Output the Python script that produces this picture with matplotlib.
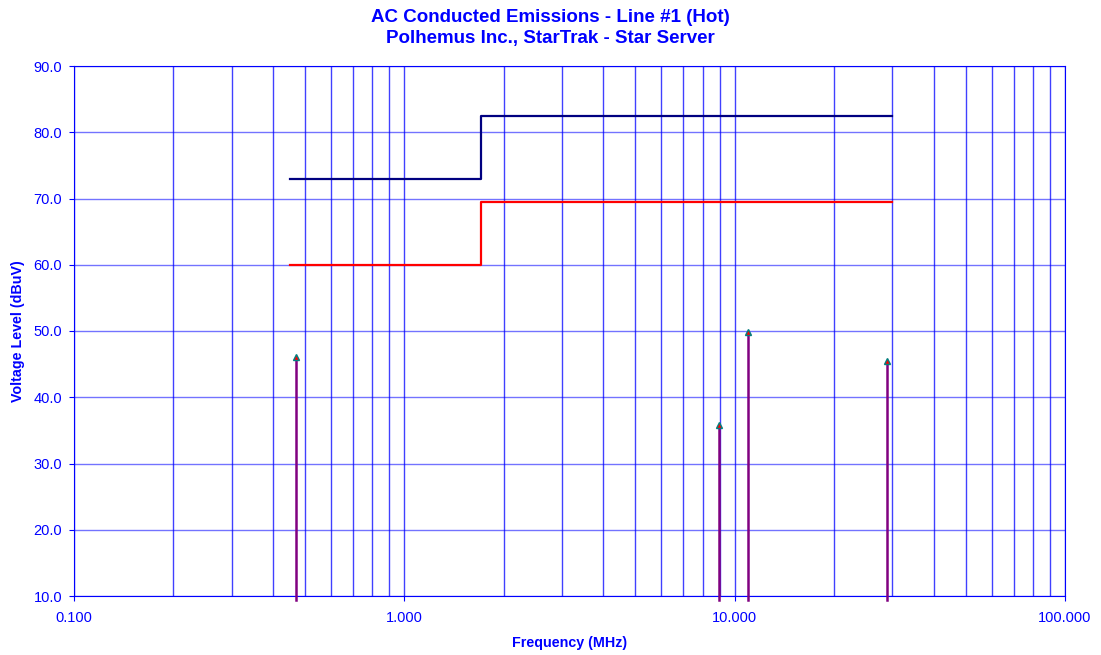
import matplotlib.pyplot as plt
from matplotlib.ticker import FixedLocator, FormatStrFormatter
import numpy as np

plt.rcParams['font.family'] = ['Liberation Sans', 'DejaVu Sans']

# limit lines (MHz, dBuV)
limit_freq = [0.45, 1.705, 1.705, 30.0]
qp_limit = [73.0, 73.0, 82.5, 82.5]
avg_limit = [60.0, 60.0, 69.5, 69.5]

# measured peaks
peak_freq = [0.47, 8.98, 10.98, 28.9]
peak_level = [45.7, 35.4, 49.5, 45.0]

blue = '#0000ff'
fig = plt.figure(figsize=(11.01, 6.55), dpi=100)
ax = fig.add_axes([74/1101, 59/655, 991/1101, 530/655])

ax.set_xscale('log')
ax.set_xlim(0.1, 100)
ax.set_ylim(10, 90)

minor = [m * 10.0**e for e in (-1, 0, 1) for m in range(2, 10)]
ax.xaxis.set_major_locator(FixedLocator([0.1, 1, 10, 100]))
ax.xaxis.set_minor_locator(FixedLocator(minor))
ax.xaxis.set_major_formatter(FormatStrFormatter('%.3f'))
ax.xaxis.set_minor_formatter(plt.NullFormatter())
ax.yaxis.set_major_locator(FixedLocator(np.arange(10, 91, 10)))
ax.yaxis.set_major_formatter(FormatStrFormatter('%.1f'))

ax.grid(True, which='both', axis='x', color=blue, lw=1, alpha=0.75)
ax.grid(True, which='major', axis='y', color=blue, lw=1, alpha=0.55)
ax.tick_params(which='both', colors=blue, labelcolor=blue, labelsize=10.5, length=3.5)
ax.tick_params(axis='x', pad=7)
ax.tick_params(axis='y', pad=5)
ax.tick_params(which='minor', length=0)
for s in ax.spines.values():
    s.set_color(blue)

ax.plot(limit_freq, qp_limit, color='#000080', lw=1.6)
ax.plot(limit_freq, avg_limit, color='#ff0000', lw=1.6)

for f, v in zip(peak_freq, peak_level):
    ax.plot([f, f], [9.4, v], color='#800080', lw=1.8, clip_on=False, zorder=4)
    ax.plot(f, v + 0.4, marker='^', ms=5, mfc='#ff0000', mec='#008080', mew=1, zorder=5)

ax.set_xlabel('Frequency (MHz)', color=blue, fontsize=10.3, fontweight='bold', labelpad=8)
ax.set_ylabel('Voltage Level (dBuV)', color=blue, fontsize=10.3, fontweight='bold', labelpad=6)
fig.text(0.5, 1 - 17/655, 'AC Conducted Emissions - Line #1 (Hot)', color=blue,
         fontsize=13.5, fontweight='bold', ha='center', va='center')
fig.text(0.5, 1 - 39/655, 'Polhemus Inc., StarTrak - Star Server', color=blue,
         fontsize=13.5, fontweight='bold', ha='center', va='center')

fig.savefig('out.png', dpi=100)
